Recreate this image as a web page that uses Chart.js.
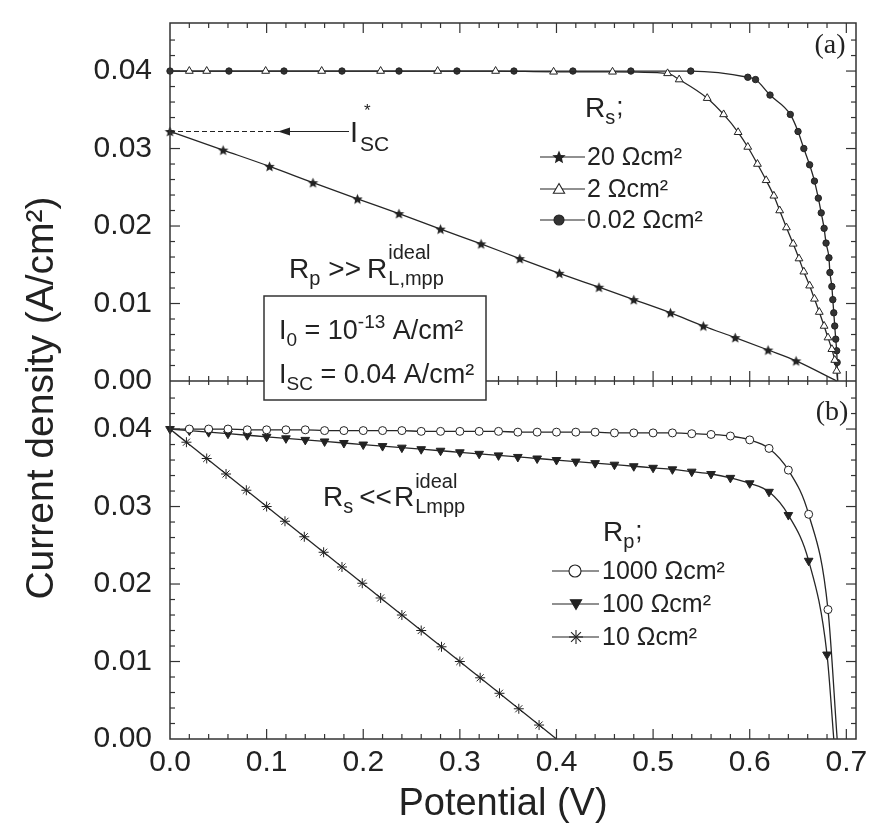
<!DOCTYPE html>
<html>
<head>
<meta charset="utf-8">
<script src="https://cdn.jsdelivr.net/npm/chart.js@4.4.1/dist/chart.umd.min.js"></script>
<style>
html,body{margin:0;padding:0;background:#fff;}
#wrap{width:871px;height:824px;position:relative;}
canvas{display:block;}
</style>
</head>
<body>
<div id="wrap"><canvas id="c" width="871" height="824"></canvas></div>
<script>
// ---------- tick labels ----------
const xTicks = [0, 0.1, 0.2, 0.3, 0.4, 0.5, 0.6, 0.7];
const xTickLabels = ['0.0', '0.1', '0.2', '0.3', '0.4', '0.5', '0.6', '0.7'];
const yTicks = [0, 0.01, 0.02, 0.03, 0.04];
const yTickLabels = ['0.00', '0.01', '0.02', '0.03', '0.04'];

// ---------- panel (a): series resistance Rs, [V, I] ----------
const rs20 = [[0.000,0.0322],[0.055,0.0298],[0.103,0.0277],[0.148,0.0256],[0.194,0.0235],[0.237,0.0216],
  [0.280,0.0196],[0.322,0.0177],[0.362,0.0158],[0.403,0.0139],[0.444,0.0121],[0.480,0.0105],[0.518,0.0088],
  [0.552,0.0071],[0.585,0.0056],[0.619,0.0040],[0.648,0.0026],[0.690,0.0000]];
const rs2 = [[0.000,0.0400],[0.020,0.0400],[0.038,0.0400],[0.099,0.0400],[0.157,0.0400],[0.218,0.0400],
  [0.277,0.0400],[0.337,0.0400],[0.397,0.0399],[0.458,0.0399],[0.515,0.0397],[0.527,0.0389],[0.556,0.0365],
  [0.573,0.0344],[0.588,0.0321],[0.598,0.0302],[0.608,0.0280],[0.617,0.0259],[0.625,0.0239],[0.631,0.0220],
  [0.638,0.0198],[0.645,0.0177],[0.651,0.0158],[0.656,0.0141],[0.662,0.0123],[0.667,0.0106],[0.672,0.0089],
  [0.677,0.0071],[0.681,0.0056],[0.685,0.0041],[0.688,0.0027],[0.690,0.0013],[0.691,0.0000]];
const rs002 = [[0.000,0.0400],[0.061,0.0400],[0.118,0.0400],[0.178,0.0400],[0.237,0.0400],[0.297,0.0400],
  [0.356,0.0400],[0.417,0.0400],[0.477,0.0400],[0.539,0.0400],[0.598,0.0392],[0.606,0.0389],[0.621,0.0369],
  [0.642,0.0344],[0.650,0.0322],[0.656,0.0300],[0.662,0.0279],[0.667,0.0258],[0.671,0.0236],[0.674,0.0217],
  [0.677,0.0197],[0.679,0.0178],[0.682,0.0159],[0.683,0.0140],[0.685,0.0122],[0.686,0.0105],[0.687,0.0088],
  [0.688,0.0071],[0.689,0.0054],[0.690,0.0039],[0.6905,0.0024],[0.691,0.0000]];

// ---------- panel (b): parallel resistance Rp, [V, I] ----------
const rp1000 = [[0.00,0.0400],[0.02,0.0400],[0.04,0.0400],[0.06,0.0400],[0.08,0.0399],[0.10,0.0399],
  [0.12,0.0399],[0.14,0.0399],[0.16,0.0398],[0.18,0.0398],[0.20,0.0398],[0.22,0.0398],[0.24,0.0398],
  [0.26,0.0397],[0.28,0.0397],[0.30,0.0397],[0.32,0.0397],[0.34,0.0397],[0.36,0.0396],[0.38,0.0396],
  [0.40,0.0396],[0.42,0.0396],[0.44,0.0396],[0.46,0.0395],[0.48,0.0395],[0.50,0.0395],[0.52,0.0395],
  [0.54,0.0394],[0.56,0.0393],[0.58,0.0391],[0.60,0.0386],[0.62,0.0375],[0.64,0.0347],[0.661,0.0290],
  [0.681,0.0167],[0.6905,0.0000]];
const rp100 = [[0.00,0.0400],[0.02,0.0398],[0.04,0.0396],[0.06,0.0394],[0.08,0.0392],[0.10,0.0390],
  [0.12,0.0388],[0.14,0.0386],[0.16,0.0384],[0.18,0.0382],[0.20,0.0380],[0.22,0.0378],[0.24,0.0376],
  [0.26,0.0374],[0.28,0.0372],[0.30,0.0370],[0.32,0.0368],[0.34,0.0366],[0.36,0.0364],[0.38,0.0362],
  [0.40,0.0360],[0.42,0.0358],[0.44,0.0356],[0.46,0.0354],[0.48,0.0352],[0.50,0.0350],[0.52,0.0348],
  [0.54,0.0345],[0.56,0.0342],[0.58,0.0337],[0.60,0.0330],[0.62,0.0319],[0.64,0.0289],[0.661,0.0230],
  [0.680,0.0109],[0.687,0.0000]];
const rp10 = [[0.000,0.0400],[0.017,0.0383],[0.038,0.0362],[0.058,0.0342],[0.079,0.0321],[0.100,0.0300],
  [0.119,0.0281],[0.139,0.0261],[0.159,0.0241],[0.178,0.0222],[0.199,0.0201],[0.218,0.0182],[0.240,0.0160],
  [0.260,0.0140],[0.281,0.0119],[0.300,0.0100],[0.321,0.0079],[0.341,0.0059],[0.361,0.0039],[0.382,0.0018],
  [0.400,0.0000]];

// ---------- styling ----------
const SANS = '"Liberation Sans", Arial, Helvetica, sans-serif';
const SERIF = '"Liberation Serif", "Times New Roman", serif';
const INK = '#222';

function makeStar(r) {
  const c = document.createElement('canvas');
  const s = Math.ceil(r * 2 + 2);
  c.width = s; c.height = s;
  const g = c.getContext('2d');
  g.translate(s / 2, s / 2 + 0.5);
  g.beginPath();
  for (let i = 0; i < 10; i++) {
    const a = -Math.PI / 2 + i * Math.PI / 5;
    const rr = i % 2 ? r * 0.45 : r;
    g.lineTo(rr * Math.cos(a), rr * Math.sin(a));
  }
  g.closePath();
  g.fillStyle = INK;
  g.fill();
  return c;
}
const starSmall = makeStar(5.5);
const starLegend = makeStar(7);

const radiusFn = (c) => {
  const ds = c.dataset;
  const n = ds.data.length;
  if (c.dataIndex === n - 1) return 0;
  if (c.dataIndex === 0 && !ds.startMarker) return 0;
  return ds.markerR;
};

function mk(label, pts, axis, st) {
  return {
    label, yAxisID: axis,
    data: pts.map(p => ({x: p[0], y: p[1]})),
    borderColor: '#262626', borderWidth: 1.3,
    pointStyle: st.pointStyle, pointRotation: st.rotation || 0,
    pointBackgroundColor: st.bg || INK, pointBorderColor: INK, pointBorderWidth: 1,
    markerR: st.markerR, startMarker: st.startMarker,
    pointRadius: radiusFn, pointHoverRadius: radiusFn,
    cubicInterpolationMode: 'monotone', fill: false, clip: false
  };
}

function line(ctx, x1, y1, x2, y2) {
  ctx.beginPath(); ctx.moveTo(x1, y1); ctx.lineTo(x2, y2); ctx.stroke();
}
// parts: [text, size, dy, gapAfter]
function rich(ctx, x, y, parts) {
  let cx = x;
  for (const [t, size, dy, gap] of parts) {
    ctx.font = size + 'px ' + SANS;
    ctx.fillText(t, cx, y + (dy || 0));
    cx += ctx.measureText(t).width + (gap || 0);
  }
  return cx;
}
function marker(ctx, kind, x, y) {
  ctx.save();
  ctx.lineWidth = 1.1; ctx.strokeStyle = INK; ctx.fillStyle = INK;
  if (kind === 'star5') {
    ctx.drawImage(starLegend, x - starLegend.width / 2, y - starLegend.height / 2);
  } else if (kind === 'triUp' || kind === 'triDown') {
    const r = 6.5, s = kind === 'triUp' ? 1 : -1;
    ctx.beginPath();
    for (let i = 0; i < 3; i++) {
      const a = i * 2 * Math.PI / 3;
      ctx.lineTo(x + Math.sin(a) * r, y - s * Math.cos(a) * r + s * 1);
    }
    ctx.closePath();
    ctx.fillStyle = kind === 'triUp' ? '#fff' : INK;
    ctx.fill(); ctx.stroke();
  } else if (kind === 'dot' || kind === 'ring') {
    ctx.beginPath(); ctx.arc(x, y, kind === 'dot' ? 5 : 6, 0, 2 * Math.PI);
    ctx.fillStyle = kind === 'dot' ? '#333' : '#fff';
    ctx.fill(); ctx.stroke();
  } else if (kind === 'aster') {
    const r = 7;
    for (let i = 0; i < 4; i++) {
      const a = i * Math.PI / 4;
      line(ctx, x - Math.cos(a) * r, y - Math.sin(a) * r, x + Math.cos(a) * r, y + Math.sin(a) * r);
    }
  }
  ctx.restore();
}
function legendRow(ctx, kind, text, x1, x2, xm, y, xt) {
  ctx.lineWidth = 1.2; ctx.strokeStyle = INK;
  line(ctx, x1, y, x2, y);
  marker(ctx, kind, xm, y);
  ctx.fillStyle = INK;
  ctx.font = '25px ' + SANS;
  ctx.textBaseline = 'middle';
  ctx.fillText(text, xt, y + 1);
  ctx.textBaseline = 'alphabetic';
}

const annot = {
  id: 'annot',
  afterDraw(chart) {
    const {ctx, chartArea: a, scales} = chart;
    const x = scales.x, yT = scales.yTop, yB = scales.yBot;
    ctx.save();
    ctx.strokeStyle = '#333'; ctx.lineWidth = 1.5;
    ctx.strokeRect(a.left, a.top, a.right - a.left, a.bottom - a.top);
    const sep = yT.getPixelForValue(0);
    line(ctx, a.left, sep, a.right, sep);

    // x ticks (inward), minor every 0.02
    ctx.lineWidth = 1.2;
    for (let k = 1; k <= 35; k++) {
      const px = x.getPixelForValue(k * 0.02);
      if (px > a.right - 2) continue;
      const major = k % 5 === 0;
      const L = major ? 10 : 5;
      line(ctx, px, a.bottom, px, a.bottom - L);
      line(ctx, px, a.top, px, a.top + L);
      line(ctx, px, sep - L, px, sep + (major ? 6 : 4));
    }
    // y ticks (inward), minor every 0.002
    for (const s of [yT, yB]) {
      for (let k = 1; k <= 23; k++) {
        const py = s.getPixelForValue(k * 0.002);
        if (py < s.top + 2) continue;
        const major = k % 5 === 0;
        const L = major ? 10 : 5;
        line(ctx, a.left, py, a.left + L, py);
        line(ctx, a.right, py, a.right - L, py);
      }
    }

    ctx.fillStyle = INK; ctx.strokeStyle = INK;
    // panel labels
    ctx.font = '28px ' + SERIF; ctx.textAlign = 'center';
    ctx.fillText('(a)', 830, 53);
    ctx.fillText('(b)', 832, 420);
    ctx.textAlign = 'left';

    // ---- panel (a) ----
    rich(ctx, 585, 117, [['R', 28, 0, 0], ['s', 20, 7, 1], [';', 26, -2, 0]]);
    legendRow(ctx, 'star5', '20 \u03A9cm\u00B2', 540, 585, 559, 157, 587);
    legendRow(ctx, 'triUp', '2 \u03A9cm\u00B2', 540, 585, 559, 189, 587);
    legendRow(ctx, 'dot', '0.02 \u03A9cm\u00B2', 540, 585, 559, 220, 587);

    // I*sc annotation
    const yIsc = yT.getPixelForValue(rs20[0][1]);
    ctx.lineWidth = 1.2;
    ctx.setLineDash([5, 3]);
    line(ctx, a.left, yIsc, 279, yIsc);
    ctx.setLineDash([]);
    ctx.beginPath(); ctx.moveTo(278, yIsc); ctx.lineTo(290, yIsc - 4); ctx.lineTo(290, yIsc + 4); ctx.closePath(); ctx.fill();
    line(ctx, 290, yIsc, 349, yIsc);
    ctx.font = '29px ' + SANS; ctx.fillText('I', 350, yIsc + 11);
    ctx.font = '17px ' + SANS; ctx.fillText('*', 364, yIsc - 15);
    ctx.font = '21px ' + SANS; ctx.fillText('SC', 360, yIsc + 20);

    // Rp >> R ideal L,mpp
    let cx = rich(ctx, 289, 278, [['R', 28, 0, 0], ['p', 20, 7, 8], ['>>', 28, 0, 6], ['R', 28, 0, 0]]);
    ctx.font = '20px ' + SANS;
    ctx.fillText('ideal', cx + 1, 259);
    ctx.fillText('L,mpp', cx + 1, 285);

    // parameter box
    ctx.fillStyle = '#fff';
    ctx.fillRect(264, 296, 222, 104);
    ctx.strokeStyle = '#333'; ctx.lineWidth = 1.5;
    ctx.strokeRect(264, 296, 222, 104);
    ctx.fillStyle = INK;
    rich(ctx, 279, 339, [['I', 27, 0, 0], ['0', 19, 7, 0], [' = 10', 27, 0, 0], ['-13', 19, -11, 0], [' A/cm\u00B2', 27, 0, 0]]);
    rich(ctx, 279, 383, [['I', 27, 0, 0], ['SC', 19, 7, 0], [' = 0.04 A/cm\u00B2', 27, 0, 0]]);

    // ---- panel (b) ----
    cx = rich(ctx, 323, 506, [['R', 28, 0, 0], ['s', 20, 7, 6], ['<<', 28, 0, 2], ['R', 28, 0, 0]]);
    ctx.font = '20px ' + SANS;
    ctx.fillText('ideal', cx + 1, 488);
    ctx.fillText('Lmpp', cx + 1, 513);

    rich(ctx, 603, 541, [['R', 28, 0, 0], ['p', 20, 7, 1], [';', 26, -2, 0]]);
    legendRow(ctx, 'ring', '1000 \u03A9cm\u00B2', 552, 599, 575, 571, 602);
    legendRow(ctx, 'triDown', '100 \u03A9cm\u00B2', 552, 599, 576, 604, 602);
    legendRow(ctx, 'aster', '10 \u03A9cm\u00B2', 552, 599, 576, 637, 602);

    // axis titles
    ctx.fillStyle = INK;
    ctx.font = '38px ' + SANS; ctx.textAlign = 'center';
    ctx.fillText('Potential (V)', 503, 815);
    ctx.save();
    ctx.translate(53, 398); ctx.rotate(-Math.PI / 2);
    ctx.font = '39px ' + SANS;
    ctx.fillText('Current density (A/cm\u00B2)', 0, 0);
    ctx.restore();
    ctx.restore();
  }
};

const tickFont = {family: SANS, size: 30};
function yScale() {
  return {
    type: 'linear', position: 'left', stack: 'iv', stackWeight: 1,
    min: 0, max: 0.0462,
    afterBuildTicks: s => { s.ticks = yTicks.map(v => ({value: v})); },
    ticks: {callback: (v, i) => yTickLabels[i], font: tickFont, color: INK, padding: 18, autoSkip: false},
    grid: {display: false, drawTicks: false},
    border: {display: false},
    afterFit: s => { s.width = 170; s.paddingTop = 0; s.paddingBottom = 0; s.paddingLeft = 0; s.paddingRight = 0; }
  };
}

new Chart(document.getElementById('c'), {
  type: 'line',
  data: {
    datasets: [
      mk('20 \u03A9cm\u00B2', rs20, 'yTop', {pointStyle: starSmall, markerR: 5, startMarker: true}),
      mk('2 \u03A9cm\u00B2', rs2, 'yTop', {pointStyle: 'triangle', markerR: 4.5, bg: '#fff', startMarker: false}),
      mk('0.02 \u03A9cm\u00B2', rs002, 'yTop', {pointStyle: 'circle', markerR: 3.2, bg: '#333', startMarker: true}),
      mk('1000 \u03A9cm\u00B2', rp1000, 'yBot', {pointStyle: 'circle', markerR: 4, bg: '#fff', startMarker: false}),
      mk('100 \u03A9cm\u00B2', rp100, 'yBot', {pointStyle: 'triangle', rotation: 180, markerR: 5, bg: INK, startMarker: true}),
      mk('10 \u03A9cm\u00B2', rp10, 'yBot', {pointStyle: 'star', markerR: 5, startMarker: false})
    ]
  },
  options: {
    responsive: false, animation: false, devicePixelRatio: 1,
    layout: {padding: {left: 0, right: 15, top: 23, bottom: 0}},
    plugins: {legend: {display: false}, tooltip: {enabled: false}},
    scales: {
      x: {
        type: 'linear', min: 0, max: 0.71,
        afterBuildTicks: s => { s.ticks = xTicks.map(v => ({value: v})); },
        ticks: {callback: (v, i) => xTickLabels[i], font: tickFont, color: INK, padding: 6, maxRotation: 0, autoSkip: false},
        grid: {display: false, drawTicks: false},
        border: {display: false},
        afterFit: s => { s.height = 85; s.paddingLeft = 0; s.paddingRight = 0; s.paddingTop = 0; s.paddingBottom = 0; }
      },
      yBot: yScale(),
      yTop: yScale()
    }
  },
  plugins: [annot]
});
</script>
</body>
</html>
